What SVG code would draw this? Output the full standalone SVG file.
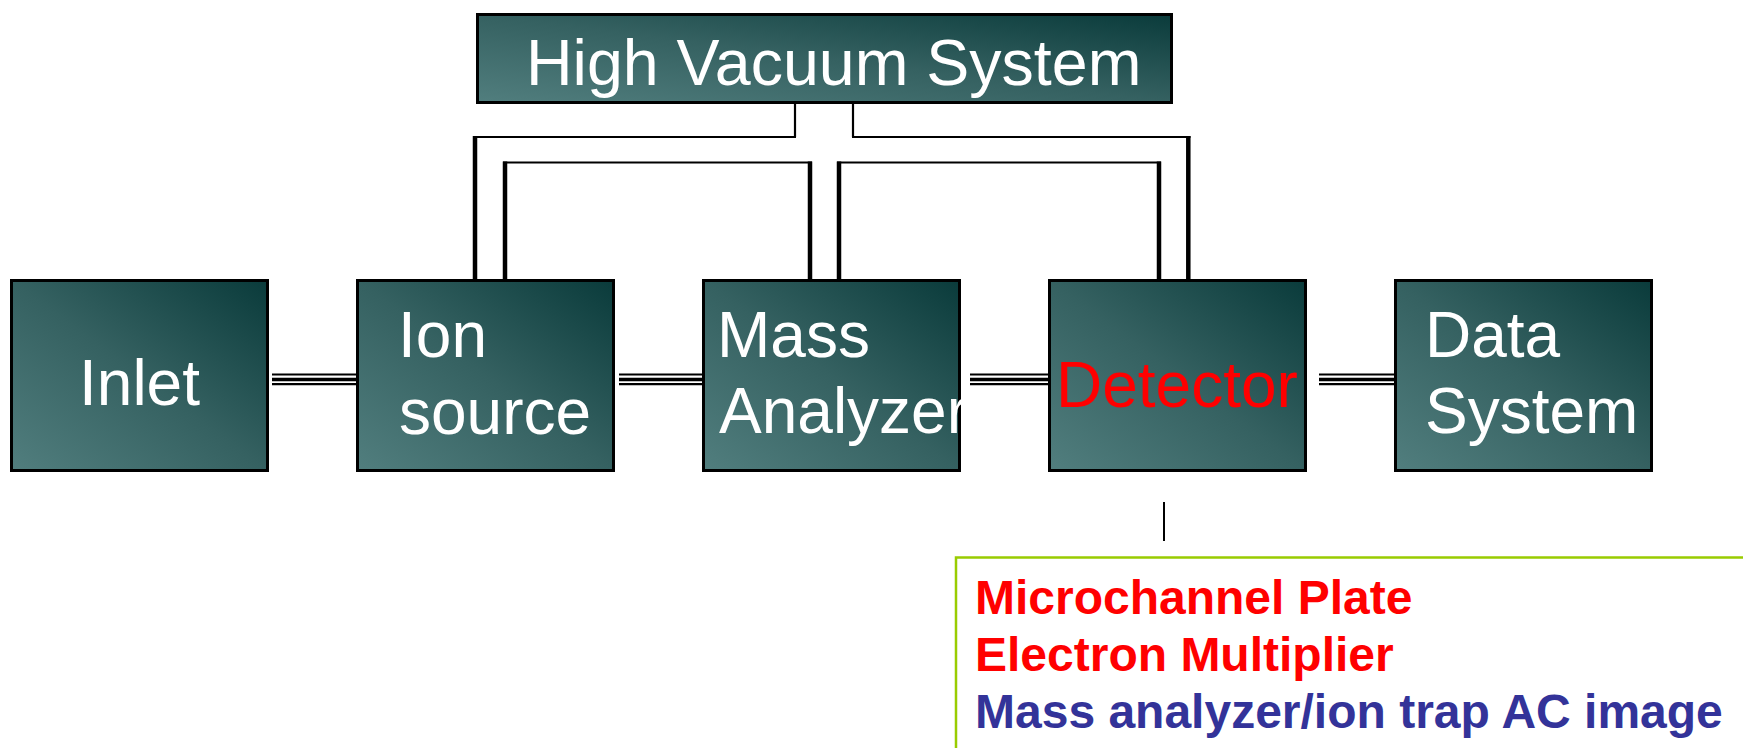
<svg xmlns="http://www.w3.org/2000/svg" width="1743" height="748" viewBox="0 0 1743 748">
  <defs>
    <linearGradient id="teal" x1="0" y1="1" x2="1" y2="0">
      <stop offset="0" stop-color="#517e7e"/>
      <stop offset="0.5" stop-color="#356161"/>
      <stop offset="1" stop-color="#0a3b3b"/>
    </linearGradient>
    <style>
      .box { fill: url(#teal); stroke: #000; stroke-width: 3; }
      .lbl { font-family: "Liberation Sans", Arial, sans-serif; font-size: 64px; fill: #fff; }
      .red { fill: #ff0000; }
      .thin { stroke: #000; stroke-width: 2.2; fill: none; }
      .thick { stroke: #000; stroke-width: 4.5; fill: none; }
      .bus { stroke: #000; fill: none; }
      .note { font-family: "Liberation Sans", Arial, sans-serif; font-size: 48px; font-weight: bold; }
    </style>
  </defs>
  <rect width="1743" height="748" fill="#fff"/>

  <g id="connectors">
    <!-- stubs from High Vacuum System -->
    <line class="thin" x1="795" y1="103" x2="795" y2="137"/>
    <line class="thin" x1="853" y1="103" x2="853" y2="137"/>
    <line class="thin" x1="473" y1="137" x2="796" y2="137"/>
    <line class="thin" x1="852" y1="137" x2="1190.5" y2="137"/>
    <line class="thin" x1="503" y1="162.5" x2="812" y2="162.5"/>
    <line class="thin" x1="837" y1="162.5" x2="1161" y2="162.5"/>
    <line class="thick" x1="475" y1="136" x2="475" y2="280"/>
    <line class="thick" x1="505" y1="161.5" x2="505" y2="280"/>
    <line class="thick" x1="810" y1="161.5" x2="810" y2="280"/>
    <line class="thick" x1="839" y1="161.5" x2="839" y2="280"/>
    <line class="thick" x1="1159" y1="161.5" x2="1159" y2="280"/>
    <line class="thick" x1="1188.3" y1="136" x2="1188.3" y2="280"/>
    <!-- triple-line links between stages -->
    <g class="bus">
      <path d="M272 374.5H357M619 374.5H703M970 374.5H1049M1319 374.5H1395" stroke-width="2.2"/>
      <path d="M272 379.5H357M619 379.5H703M970 379.5H1049M1319 379.5H1395" stroke-width="3.6"/>
      <path d="M272 384.2H357M619 384.2H703M970 384.2H1049M1319 384.2H1395" stroke-width="2.2"/>
    </g>
    <!-- detector to note -->
    <line x1="1164" y1="502" x2="1164" y2="541" stroke="#000" stroke-width="2"/>
  </g>

  <g id="high-vacuum-system">
    <rect class="box" x="477.5" y="14.5" width="694" height="88"/>
    <text class="lbl" x="526" y="85" style="font-size:64.5px">High Vacuum System</text>
  </g>

  <g id="inlet">
    <rect class="box" x="11.5" y="280.5" width="256" height="190"/>
    <text class="lbl" x="79" y="405">Inlet</text>
  </g>

  <g id="ion-source">
    <rect class="box" x="357.5" y="280.5" width="256" height="190"/>
    <text class="lbl" x="398" y="357">Ion</text>
    <text class="lbl" x="399" y="434">source</text>
  </g>

  <g id="mass-analyzer">
    <rect class="box" x="703.5" y="280.5" width="256" height="190"/>
    <text class="lbl" x="717" y="357">Mass</text>
    <text class="lbl" x="719" y="433">Analyzer</text>
  </g>

  <g id="detector">
    <rect class="box" x="1049.5" y="280.5" width="256" height="190"/>
    <text class="lbl red" x="1056" y="407">Detector</text>
  </g>

  <g id="data-system">
    <rect class="box" x="1395.5" y="280.5" width="256" height="190"/>
    <text class="lbl" x="1425" y="357">Data</text>
    <text class="lbl" x="1425" y="433">System</text>
  </g>

  <g id="detector-types">
    <rect x="956" y="557.5" width="820" height="300" fill="#fff" stroke="#99cc00" stroke-width="2.5"/>
    <text class="note" x="975" y="614" fill="#ff0000">Microchannel Plate</text>
    <text class="note" x="975" y="671" fill="#ff0000">Electron Multiplier</text>
    <text class="note" x="975" y="728" fill="#333399">Mass analyzer/ion trap AC image</text>
  </g>
</svg>
